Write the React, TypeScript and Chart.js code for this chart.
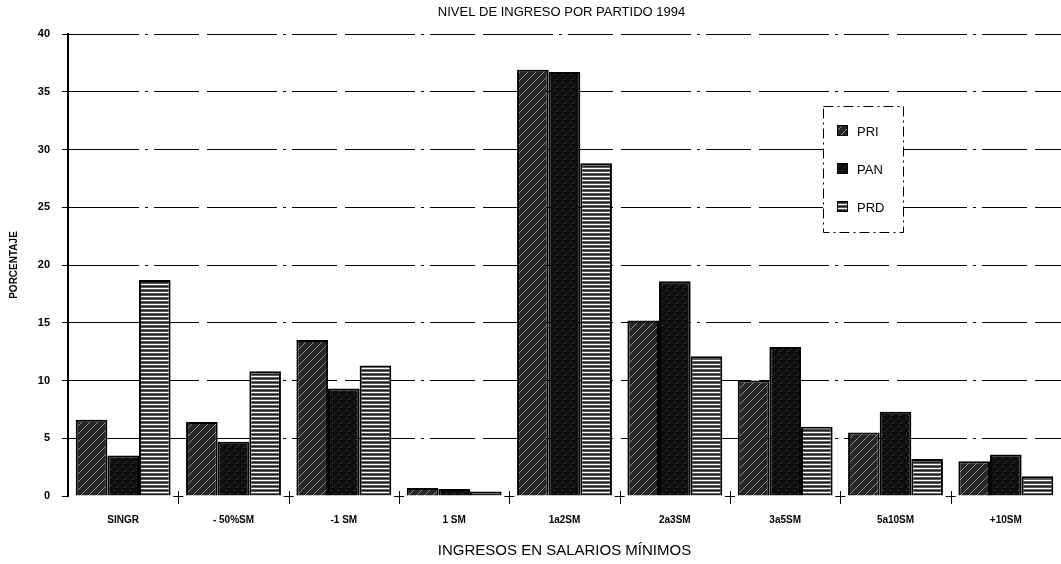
import React, { useEffect, useRef } from "react";
import { Chart, registerables } from "chart.js";

Chart.register(...registerables);

const categories = ["SINGR", "- 50%SM", "-1 SM", "1 SM", "1a2SM", "2a3SM", "3a5SM", "5a10SM", "+10SM"];
const seriesNames = ["PRI", "PAN", "PRD"];
const priValues = [6.6, 6.4, 13.5, 0.7, 36.9, 15.2, 10.0, 5.5, 3.0];
const panValues = [3.5, 4.7, 9.3, 0.6, 36.7, 18.6, 12.9, 7.3, 3.6];
const prdValues = [18.7, 10.8, 11.3, 0.4, 28.8, 12.1, 6.0, 3.2, 1.7];
const yTicks = [0, 5, 10, 15, 20, 25, 30, 35, 40];
const titleText = "NIVEL DE INGRESO POR PARTIDO 1994";
const xTitle = "INGRESOS EN SALARIOS MÍNIMOS";
const yTitle = "PORCENTAJE";

const FONT = "Arial, 'Liberation Sans', Helvetica, sans-serif";

function makePattern(kind: string): CanvasPattern | string {
  const c = document.createElement("canvas");
  c.width = 8;
  c.height = 8;
  const g = c.getContext("2d");
  if (!g) return "#333";
  if (kind === "PRI") {
    g.fillStyle = "#262626";
    g.fillRect(0, 0, 8, 8);
    g.strokeStyle = "#8a8a8a";
    g.lineWidth = 1;
    g.beginPath();
    g.moveTo(0, 8); g.lineTo(8, 0);
    g.moveTo(-4, 4); g.lineTo(4, -4);
    g.moveTo(4, 12); g.lineTo(12, 4);
    g.stroke();
  } else if (kind === "PAN") {
    g.fillStyle = "#0e0e0e";
    g.fillRect(0, 0, 8, 8);
    g.fillStyle = "#555555";
    g.fillRect(2, 2, 1, 1);
    g.fillRect(6, 5, 1, 1);
    g.fillRect(4, 7, 1, 1);
  } else {
    g.fillStyle = "#5e5e5e";
    g.fillRect(0, 0, 8, 8);
    g.fillStyle = "#ffffff";
    g.fillRect(0, 0, 8, 1);
    g.fillRect(0, 4, 8, 1);
    g.fillStyle = "#1c1c1c";
    g.fillRect(0, 2, 8, 1);
    g.fillRect(0, 6, 8, 1);
  }
  const p = g.createPattern(c, "repeat");
  return p || "#333";
}

export default function App() {
  const ref = useRef<HTMLCanvasElement | null>(null);

  useEffect(() => {
    if (!ref.current) return;
    const fills = seriesNames.map((n) => makePattern(n));

    const decor = {
      id: "decor",
      afterDraw(chart: any) {
        const ctx = chart.ctx;
        const area = chart.chartArea;
        const xs = chart.scales.x;
        const ys = chart.scales.y;
        ctx.save();
        // title
        ctx.fillStyle = "#000";
        ctx.font = `13px ${FONT}`;
        ctx.textAlign = "center";
        ctx.textBaseline = "middle";
        ctx.fillText(titleText, (area.left + area.right) / 2 - 3, 12);
        // category boundary crosses
        const y0 = ys.getPixelForValue(0);
        ctx.strokeStyle = "#000";
        ctx.lineWidth = 1;
        for (let i = 1; i < categories.length; i++) {
          const xb = (xs.getPixelForValue(i - 1) + xs.getPixelForValue(i)) / 2;
          ctx.beginPath();
          ctx.moveTo(Math.round(xb) + 0.5, y0 - 5);
          ctx.lineTo(Math.round(xb) + 0.5, y0 + 8);
          ctx.moveTo(xb - 5, Math.round(y0) + 0.5);
          ctx.lineTo(xb + 5, Math.round(y0) + 0.5);
          ctx.stroke();
        }
        // legend
        const lx = 823, ly = 106, lw = 80, lh = 126;
        ctx.fillStyle = "#fff";
        ctx.fillRect(lx, ly, lw, lh);
        ctx.setLineDash([10, 4, 2, 4]);
        ctx.strokeStyle = "#000";
        ctx.strokeRect(lx + 0.5, ly + 0.5, lw, lh);
        ctx.setLineDash([]);
        ctx.font = `13px ${FONT}`;
        ctx.textAlign = "left";
        ctx.textBaseline = "middle";
        const rows = [131, 169, 207];
        seriesNames.forEach((n, i) => {
          const cy = rows[i];
          ctx.fillStyle = fills[i];
          ctx.fillRect(837, cy - 6, 11, 11);
          ctx.strokeStyle = "#000";
          ctx.strokeRect(837.5, cy - 5.5, 10, 10);
          ctx.fillStyle = "#000";
          ctx.fillText(n, 857, cy + 1);
        });
        ctx.restore();
      },
    };

    const chart = new Chart(ref.current, {
      type: "bar",
      data: {
        labels: categories,
        datasets: [
          { label: seriesNames[0], data: priValues, backgroundColor: fills[0] as any, borderColor: "#000", borderWidth: 2 },
          { label: seriesNames[1], data: panValues, backgroundColor: fills[1] as any, borderColor: "#000", borderWidth: 2 },
          { label: seriesNames[2], data: prdValues, backgroundColor: fills[2] as any, borderColor: "#000", borderWidth: 2 },
        ],
      },
      options: {
        responsive: false,
        animation: false,
        events: [],
        layout: { padding: { top: 34, right: 0, bottom: 0, left: 0 } },
        datasets: { bar: { categoryPercentage: 0.86, barPercentage: 1.0 } },
        plugins: {
          legend: { display: false },
          title: { display: false },
          tooltip: { enabled: false },
        },
        scales: {
          x: {
            offset: true,
            grid: { display: false },
            border: { display: false },
            ticks: {
              color: "#000",
              font: { family: FONT, size: 10, weight: "bold" },
              padding: 10,
              maxRotation: 0,
              autoSkip: false,
            },
            title: {
              display: true,
              text: xTitle,
              color: "#000",
              font: { family: FONT, size: 15 },
              padding: { top: 0, bottom: 4 },
            },
            afterFit: (s: any) => { s.height = 68; },
          },
          y: {
            min: 0,
            max: 40,
            afterBuildTicks: (s: any) => { s.ticks = yTicks.map((v) => ({ value: v })); },
            grid: {
              color: (c: any) => (c.tick && c.tick.value === 0 ? "rgba(0,0,0,0)" : "#000"),
              tickColor: "#000",
              lineWidth: 1,
              tickLength: 6,
              drawTicks: true,
            },
            border: { display: true, color: "#000", width: 2, dash: [70, 6, 3, 6, 45, 8] },
            ticks: {
              color: "#000",
              font: { family: FONT, size: 11, weight: "bold" },
              padding: 12,
            },
            title: {
              display: true,
              text: yTitle,
              color: "#000",
              font: { family: FONT, size: 10, weight: "bold" },
              padding: { top: 8, bottom: 0 },
            },
            afterFit: (s: any) => { s.width = 68; },
          },
        },
      },
      plugins: [decor],
    });
    return () => chart.destroy();
  }, []);

  return (
    <div style={{ position: "fixed", left: 0, top: 0, width: 1061, height: 564, background: "#fff" }}>
      <canvas ref={ref} width={1061} height={564} style={{ display: "block" }} />
    </div>
  );
}
